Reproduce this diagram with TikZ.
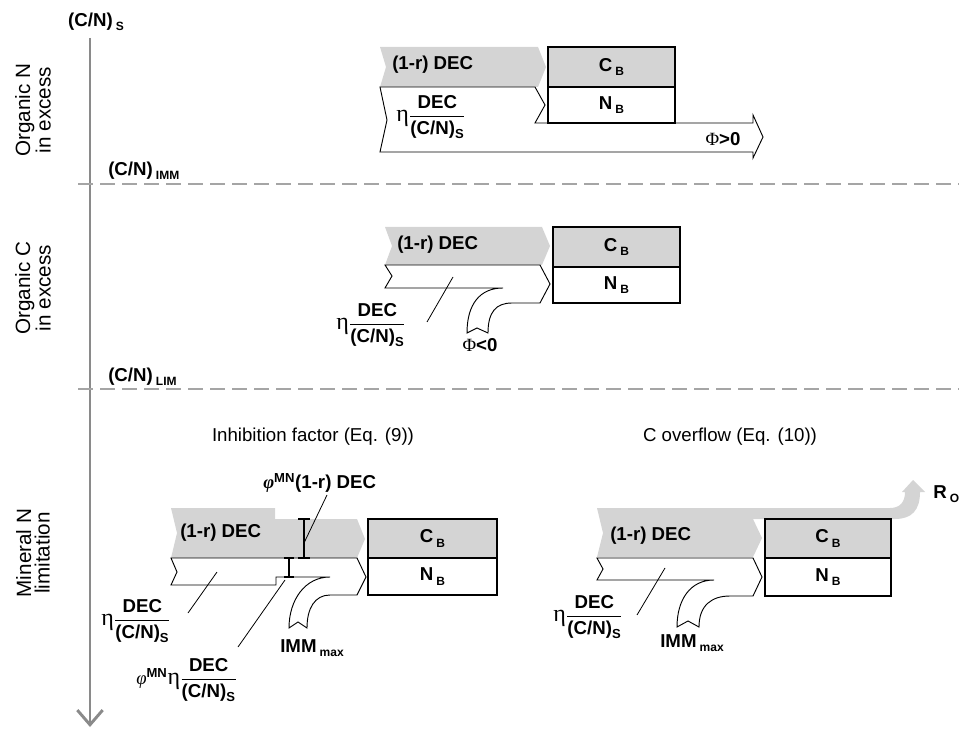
\documentclass[tikz,border=0pt]{standalone}
\usepackage{amsmath}
\usepackage{fontspec}
\setmainfont{Liberation Sans}
\newfontfamily\grk{Liberation Serif}
\usetikzlibrary{positioning,arrows.meta}
\definecolor{fluxgray}{RGB}{212,212,212}
\definecolor{axisgray}{RGB}{138,138,138}
\definecolor{dashgray}{RGB}{165,165,165}
\newcommand{\subtxt}[1]{\,\raisebox{-0.45ex}{\fontsize{9}{9}\selectfont\bfseries #1}}
\newcommand{\decfrac}{$\dfrac{\textbf{DEC}}{\textbf{(C/N)}_{\textbf{S}}}$}
\newcommand{\etafrac}{{\grk\fontsize{18}{18}\selectfont η}\decfrac}
\newcommand{\phimn}{{\grk\itshape φ}\textsuperscript{\bfseries MN}}

\begin{document}
\begin{tikzpicture}[x=0.75pt,y=-0.75pt,
    font=\fontsize{14}{17}\selectfont,
    every node/.style={inner sep=0pt},
    flow/.style={draw,line width=0.7pt,fill=white},
    biobox/.style={draw,line width=1.1pt},
    leader/.style={line width=0.6pt},
    ibar/.style={line width=1.3pt},
    bold/.style={font=\fontsize{14}{17}\selectfont\bfseries},
    region/.style={rotate=90,align=center,font=\fontsize{15.5}{14}\selectfont}]

\useasboundingbox (0,0) rectangle (959,730);

% axis and thresholds
\draw[axisgray,line width=2.2pt,-{Straight Barb[length=11pt,width=19pt]}] (90,38) -- (90,727);
\draw[dashgray,line width=1.2pt,dash pattern=on 11pt off 5.5pt] (78,184) -- (959,184);
\draw[dashgray,line width=1.2pt,dash pattern=on 11pt off 5.5pt] (78,389) -- (959,389);

\node[bold] (cns) at (96,22) {(C/N)\subtxt{S}};
\node[bold,anchor=west] (cnimm) at (108,171) {(C/N)\subtxt{IMM}};
\node[bold,anchor=west] (cnlim) at (108,377) {(C/N)\subtxt{LIM}};

\node[region] (orgn) at (33,110) {Organic N\\in excess};
\node[region] (orgc) at (33,288) {Organic C\\in excess};
\node[region] (minn) at (33,553) {Mineral N\\limitation};

% organic N in excess
\fill[fluxgray] (380,47) -- (538,47) -- (546,67) -- (538,87) -- (380,87) -- (386,67) -- cycle;
\draw[flow] (380,87) -- (535,87) -- (545,105) -- (535,123) -- (753,123) -- (753,115)
    -- (763,137) -- (753,158) -- (753,152) -- (380,152) -- (387,120) -- cycle;
\node[bold,anchor=west] (dec1) at (392,65) {(1-r) DEC};
\node[anchor=west] (eta1) at (396,117) {\etafrac};
\node[bold] (phi1) at (723,139) {{\grk\mdseries Φ}>0};

% organic C in excess
\fill[fluxgray] (385,227) -- (542,227) -- (550,246) -- (542,265) -- (385,265) -- (392,246) -- cycle;
\draw[flow] (385,265) -- (540,265) -- (550,284) -- (540,303) -- (512,303)
    .. controls (496,303) and (488,312) .. (488,333) -- (477,328) -- (467,333)
    .. controls (467,304) and (480,288) .. (503,288) -- (385,288) -- (392,276) -- cycle;
\node[bold,anchor=west] (dec2) at (397,245) {(1-r) DEC};
\node[anchor=west] (eta2) at (336,325) {\etafrac};
\node[bold] (phi2) at (480,345) {{\grk\mdseries Φ}<0};
\coordinate (l2a) at (427,322);
\coordinate (l2b) at (453,277);
\draw[leader] (l2a) -- (l2b);

% mineral N limitation: inhibition factor
\node (inhib) at (313,437) {Inhibition factor (Eq. (9))};
\fill[fluxgray] (171,508) -- (275,508) -- (275,519) -- (357,519) -- (365,539) -- (357,558)
    -- (171,558) -- (177,533) -- cycle;
\draw[flow] (171,558) -- (357,558) -- (366,577) -- (357,595) -- (330,595)
    .. controls (315,595) and (307,608) .. (307,628) -- (298,622) -- (289,628)
    .. controls (289,600) and (305,577) .. (330,577) -- (276,577) -- (276,585)
    -- (171,585) -- (177,572) -- cycle;
\draw[ibar] (298,519) -- (310,519) (304,519) -- (304,558) (298,558) -- (310,558);
\draw[ibar] (284,558) -- (294,558) (289,558) -- (289,577) (284,577) -- (294,577);
\node[bold,anchor=west] (dec3) at (180,533) {(1-r) DEC};
\node[bold,anchor=west] (phidec3) at (263,483) {\phimn(1-r) DEC};
\node[anchor=west] (eta3) at (101,621) {\etafrac};
\node[anchor=west] (phieta3) at (136,680) {\phimn{\grk\fontsize{18}{18}\selectfont η}\decfrac};
\node[bold,anchor=west] (imm3) at (280,648) {IMM\subtxt{max}};
\coordinate (l3a) at (327,495);
\coordinate (l3b) at (304,543);
\coordinate (l3c) at (188,613);
\coordinate (l3d) at (217,572);
\coordinate (l3e) at (238,647);
\coordinate (l3f) at (285,580);
\draw[leader] (l3a) -- (l3b);
\draw[leader] (l3c) -- (l3d);
\draw[leader] (l3e) -- (l3f);

% mineral N limitation: C overflow
\node (overflow) at (730,437) {C overflow (Eq. (10))};
\fill[fluxgray] (597,508) -- (890,508) .. controls (900,508) and (905,502) .. (905,492)
    -- (902,492) -- (913,480) -- (925,492) -- (920,492)
    .. controls (920,510) and (912,519) .. (895,519) -- (753,519) -- (762,538)
    -- (753,557) -- (597,557) -- (603,533) -- cycle;
\draw[flow] (597,558) -- (753,558) -- (762,577) -- (753,596) -- (730,596)
    .. controls (712,596) and (699,605) .. (699,627) -- (688,621) -- (677,627)
    .. controls (677,600) and (690,580) .. (714,580) -- (597,580) -- (603,569) -- cycle;
\node[bold,anchor=west] (dec4) at (610,536) {(1-r) DEC};
\node[anchor=west] (eta4) at (553,617) {\etafrac};
\node[bold,anchor=west] (imm4) at (660,643) {IMM\subtxt{max}};
\node[bold,anchor=west] (ro) at (933,494) {R\subtxt{O}};
\coordinate (l4a) at (637,615);
\coordinate (l4b) at (665,568);
\draw[leader] (l4a) -- (l4b);

% microbial biomass boxes
\foreach \xa/\ya/\ym/\xb/\yb/\nm in {548/47/87/675/123/1, 553/227/267/680/303/2,
    368/519/558/497/595/3, 765/519/558/891/596/4}{
  \fill[fluxgray] (\xa,\ya) rectangle (\xb,\ym);
  \draw[biobox] (\xa,\ya) rectangle (\xb,\yb);
  \draw[biobox] (\xa,\ym) -- (\xb,\ym);
  \node[bold] (cb\nm) at ({(\xa+\xb)/2},{(\ya+\ym)/2}) {C\subtxt{B}};
  \node[bold] (nb\nm) at ({(\xa+\xb)/2},{(\ym+\yb)/2}) {N\subtxt{B}};
}
\end{tikzpicture}
\end{document}
